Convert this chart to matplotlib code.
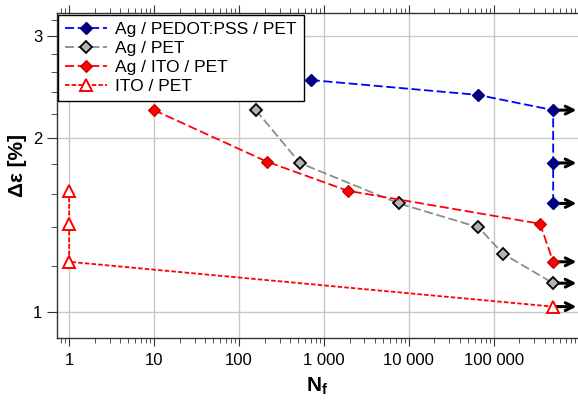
import matplotlib
matplotlib.use("Agg")
import matplotlib.pyplot as plt
from matplotlib.ticker import FixedLocator, FuncFormatter, LogLocator, NullFormatter

plt.rcParams["font.family"] = ["Liberation Sans", "DejaVu Sans"]
plt.rcParams["mathtext.fontset"] = "custom"
plt.rcParams["mathtext.rm"] = "Liberation Sans"
plt.rcParams["mathtext.bf"] = "Liberation Sans:bold"

# cycles to failure (N_f) and strain amplitude (%) for each film stack
pedot_n = [700, 65000, 5e5, 5e5, 5e5]
pedot_de = [2.52, 2.375, 2.235, 1.81, 1.54]

ag_pet_n = [158, 520, 7600, 66000, 128000, 5e5]
ag_pet_de = [2.235, 1.81, 1.54, 1.40, 1.26, 1.12]

ag_ito_n = [10, 212, 1900, 350000, 5e5]
ag_ito_de = [2.235, 1.82, 1.62, 1.42, 1.22]

ito_n = [1, 1, 1, 5e5]
ito_de = [1.62, 1.42, 1.22, 1.02]

labels = ["Ag / PEDOT:PSS / PET", "Ag / PET", "Ag / ITO / PET", "ITO / PET"]
x_ticks = [1, 10, 100, 1000, 10000, 100000]

# tests stopped at this cycle count without failure (run-outs)
RUNOUT = 5e5

fig = plt.figure(figsize=(5.78, 4.01), dpi=100)
W, H = 578, 401
ax = fig.add_axes([57 / W, 1 - 338 / H, (578 - 57) / W, (338 - 12.5) / H])

series = [
    (pedot_n, pedot_de, dict(color="#0000ff", ls=(0, (5, 2)), marker="D", ms=5.8,
                             mfc="#000080", mec="#000080", mew=1.0)),
    (ag_pet_n, ag_pet_de, dict(color="#8c8c8c", ls=(0, (5, 2)), marker="D", ms=5.8,
                               mfc="#b4b4b4", mec="black", mew=1.3)),
    (ag_ito_n, ag_ito_de, dict(color="#ff0000", ls=(0, (5, 2)), marker="D", ms=5.8,
                               mfc="#ff0000", mec="#b00000", mew=0.8)),
    (ito_n, ito_de, dict(color="#ff0000", ls=(0, (2.5, 1.2)), marker="^", ms=8,
                         mfc="white", mec="#ff0000", mew=1.4)),
]

for (n, de, style), lab in zip(series, labels):
    ax.plot(n, de, lw=1.3, label=lab, zorder=3, clip_on=False, **style)
    for x, y in zip(n, de):
        if x == RUNOUT:
            ax.annotate("", xy=(0.997, y), xycoords=("axes fraction", "data"),
                        xytext=(x, y), textcoords="data",
                        arrowprops=dict(arrowstyle="->", lw=2.2, color="black",
                                        mutation_scale=14, shrinkA=0, shrinkB=0),
                        zorder=2.5, annotation_clip=False)

ax.set_xscale("log")
ax.set_yscale("log")
ax.set_xlim(0.72, 9.8e5)
ax.set_ylim(0.9, 3.3)

ax.xaxis.set_major_locator(FixedLocator(x_ticks))
ax.xaxis.set_minor_locator(LogLocator(base=10, subs=range(2, 10), numticks=20))
ax.xaxis.set_major_formatter(FuncFormatter(lambda v, _: f"{v:,.0f}".replace(",", " ")))
ax.xaxis.set_minor_formatter(NullFormatter())

ax.yaxis.set_major_locator(FixedLocator([1, 2, 3]))
ax.yaxis.set_minor_locator(FixedLocator([1.2, 1.4, 1.6, 1.8, 2.2, 2.4, 2.6, 2.8, 3.2]))
ax.yaxis.set_major_formatter(FuncFormatter(lambda v, _: f"{v:g}"))
ax.yaxis.set_minor_formatter(NullFormatter())

ax.grid(True, which="major", color="#c8c8c8", lw=1.0, zorder=0)
ax.set_axisbelow(True)

ax.spines["right"].set_visible(False)
for s in ("left", "bottom", "top"):
    ax.spines[s].set_color("#333333")
    ax.spines[s].set_linewidth(1.0)

ax.tick_params(axis="x", which="both", direction="out", top=True, labeltop=False,
               colors="#333333", labelcolor="black", labelsize=12, pad=5)
ax.tick_params(axis="x", which="major", length=6)
ax.tick_params(axis="x", which="minor", length=3.5)
ax.tick_params(axis="y", which="both", direction="out", right=False,
               colors="#333333", labelcolor="black", labelsize=12)
ax.tick_params(axis="y", which="major", length=7)
ax.tick_params(axis="y", which="minor", length=4.5)

ax.set_xlabel(r"$\mathbf{N}_\mathbf{f}$", fontsize=15)
ax.xaxis.set_label_coords(0.5, -0.115)
ax.set_ylabel("Δε [%]", fontsize=15, fontweight="bold")
ax.yaxis.set_label_coords(-0.057, 0.53)

leg = ax.legend(loc="upper left", bbox_to_anchor=(0.002, 0.992), borderaxespad=0,
                fontsize=12.5, handlelength=2.4, handletextpad=0.5, labelspacing=0.22,
                borderpad=0.4, fancybox=False, framealpha=1, edgecolor="black")
leg.get_frame().set_linewidth(1.0)

fig.savefig("out.png", dpi=100)
